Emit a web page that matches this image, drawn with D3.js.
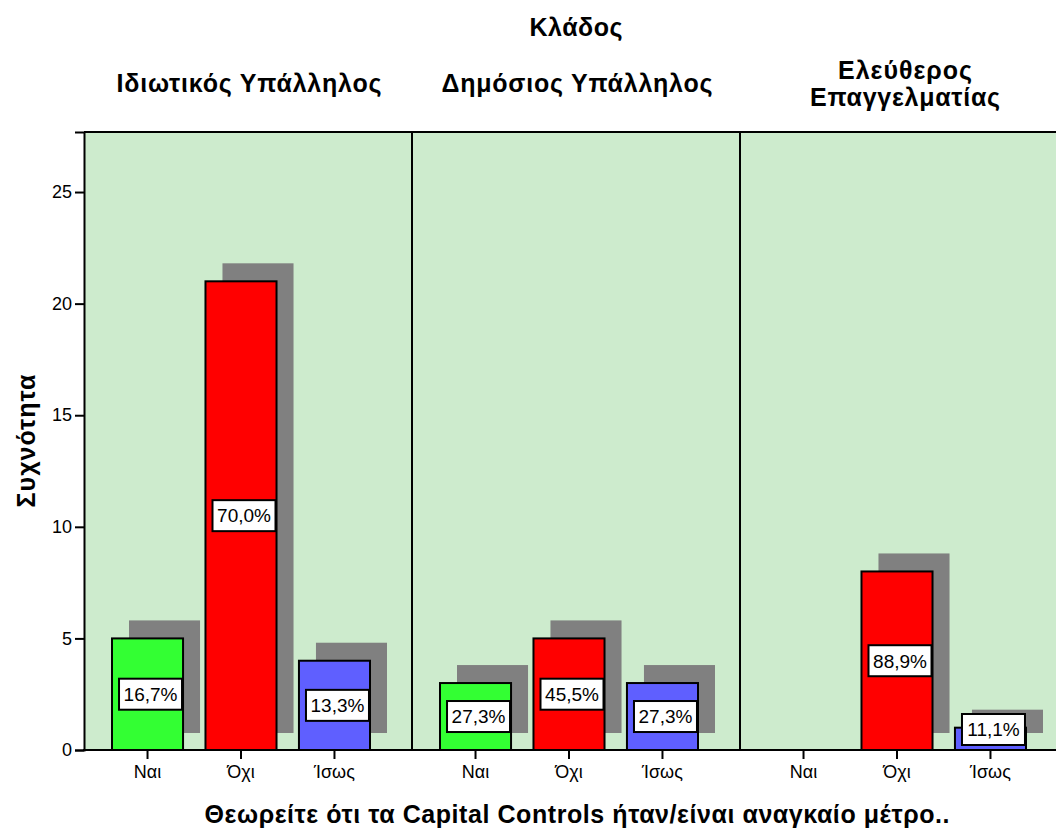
<!DOCTYPE html>
<html>
<head>
<meta charset="utf-8">
<script src="https://cdn.jsdelivr.net/npm/d3@7"></script>
<style>
  html, body { margin: 0; padding: 0; background: #ffffff; }
  svg { display: block; }
  text { font-family: "Liberation Sans", Arial, sans-serif; fill: #000; }
</style>
</head>
<body>
<svg id="chart" width="1056" height="829"></svg>
<script>
// ---- Data ----
const panelTitle = "Κλάδος";
const panels = ["Ιδιωτικός Υπάλληλος", "Δημόσιος Υπάλληλος", "Ελεύθερος Επαγγελματίας"];
const panelTitleLines = [["Ιδιωτικός Υπάλληλος"], ["Δημόσιος Υπάλληλος"], ["Ελεύθερος", "Επαγγελματίας"]];
const categories = ["Ναι", "Όχι", "Ίσως"];
const countsIdiotikos = [5, 21, 4];
const countsDimosios = [3, 5, 3];
const countsEleftheros = [0, 8, 1];
const pctIdiotikos = ["16,7%", "70,0%", "13,3%"];
const pctDimosios = ["27,3%", "45,5%", "27,3%"];
const pctEleftheros = ["", "88,9%", "11,1%"];
const yTicks = [0, 5, 10, 15, 20, 25];
const xTitle = "Θεωρείτε ότι τα Capital Controls ήταν/είναι αναγκαίο μέτρο..";
const yTitle = "Συχνότητα";
const barColors = ["#33ff33", "#ff0000", "#5f5fff"];

const counts = [countsIdiotikos, countsDimosios, countsEleftheros];
const pcts = [pctIdiotikos, pctDimosios, pctEleftheros];

// ---- Layout ----
const svg = d3.select("#chart");
const plotLeft = 84, plotTop = 132, baseY = 750;
const panelW = 328;
const plotRight = plotLeft + panelW * panels.length;
const shadowDx = 17, shadowDy = 18, shadowBottomGap = 17;

const y = d3.scaleLinear().domain([0, 27.69]).range([baseY, plotTop]);
const px = d3.scaleBand().domain(panels).range([plotLeft, plotRight]).padding(0);
const x = d3.scaleBand().domain(categories).range([28, 286]).paddingInner(0.24).paddingOuter(0);
const color = d3.scaleOrdinal().domain(categories).range(barColors);

// fit a bold title to a measured width
function fitText(sel, w) {
  const n = sel.node();
  const nat = n.getComputedTextLength();
  if (nat < w) sel.attr("textLength", w).attr("lengthAdjust", "spacing");
  return sel;
}

// background
svg.append("rect")
  .attr("x", plotLeft).attr("y", plotTop)
  .attr("width", plotRight - plotLeft).attr("height", baseY - plotTop)
  .attr("fill", "#cdebcd");

const titleWidths = [[265], [271], [134, 190]];

// panels
panels.forEach((p, pi) => {
  const g = svg.append("g").attr("transform", `translate(${px(p)},0)`);
  const vals = counts[pi];
  // shadows
  categories.forEach((c, ci) => {
    const v = vals[ci];
    if (v <= 0) return;
    const top = y(v) - shadowDy;
    g.append("rect")
      .attr("x", x(c) + shadowDx).attr("y", top)
      .attr("width", x.bandwidth())
      .attr("height", (baseY - shadowBottomGap) - top)
      .attr("fill", "#808080");
  });
  // bars
  categories.forEach((c, ci) => {
    const v = vals[ci];
    if (v <= 0) return;
    g.append("rect")
      .attr("x", x(c)).attr("y", y(v))
      .attr("width", x.bandwidth()).attr("height", baseY - y(v))
      .attr("fill", color(c)).attr("stroke", "#000").attr("stroke-width", 2);
  });
  // labels
  categories.forEach((c, ci) => {
    const v = vals[ci];
    const lab = pcts[pi][ci];
    if (v <= 0 || !lab) return;
    const bw = 63, bh = 31;
    let cy = y(v / 2);
    cy = Math.min(cy, baseY - 5 - bh / 2);
    const cx = x(c) + x.bandwidth() / 2 + 3;
    g.append("rect")
      .attr("x", cx - bw / 2).attr("y", cy - bh / 2)
      .attr("width", bw).attr("height", bh)
      .attr("fill", "#fff").attr("stroke", "#000").attr("stroke-width", 2);
    g.append("text")
      .attr("x", cx).attr("y", cy).attr("dy", "0.36em")
      .attr("text-anchor", "middle").attr("font-size", 19)
      .text(lab);
  });
  // x axis ticks / labels
  const xa = d3.axisBottom(x).tickSize(9).tickPadding(6);
  const ax = g.append("g").attr("transform", `translate(0,${baseY})`).call(xa);
  ax.select(".domain").remove();
  ax.selectAll(".tick line").attr("stroke", "#000").attr("stroke-width", 2);
  ax.selectAll(".tick text").attr("font-size", 18).style("font-family", "Liberation Sans, Arial, sans-serif");
  // panel title
  const lines = panelTitleLines[pi];
  const tcx = panelW / 2 + 1;
  lines.forEach((ln, li) => {
    const base = lines.length === 1 ? 92 : 79 + li * 27;
    const t = g.append("text")
      .attr("x", tcx).attr("y", base)
      .attr("text-anchor", "middle").attr("font-size", 25).attr("font-weight", "bold")
      .text(ln);
    fitText(t, titleWidths[pi][li]);
  });
});

// panel separators
panels.slice(1).forEach(p => {
  svg.append("line")
    .attr("x1", px(p)).attr("x2", px(p))
    .attr("y1", plotTop).attr("y2", baseY)
    .attr("stroke", "#000").attr("stroke-width", 2);
});
// frame: top, right
svg.append("line").attr("x1", plotLeft).attr("x2", plotRight).attr("y1", plotTop).attr("y2", plotTop)
  .attr("stroke", "#000").attr("stroke-width", 2);
svg.append("line").attr("x1", plotRight).attr("x2", plotRight).attr("y1", plotTop).attr("y2", baseY)
  .attr("stroke", "#000").attr("stroke-width", 2);

// y axis
const ya = d3.axisLeft(y).tickValues(yTicks).tickSize(9).tickPadding(3).tickFormat(d3.format("d"));
const yg = svg.append("g").attr("transform", `translate(${plotLeft},0)`).call(ya);
yg.select(".domain").attr("stroke", "#000").attr("stroke-width", 2);
yg.selectAll(".tick line").attr("stroke", "#000").attr("stroke-width", 2);
yg.selectAll(".tick text").attr("font-size", 18).style("font-family", "Liberation Sans, Arial, sans-serif");

// baseline
svg.append("line").attr("x1", plotLeft - 1).attr("x2", plotRight).attr("y1", baseY).attr("y2", baseY)
  .attr("stroke", "#000").attr("stroke-width", 2);

// titles
fitText(svg.append("text").attr("x", px(panels[1]) + panelW / 2).attr("y", 36)
  .attr("text-anchor", "middle").attr("font-size", 25).attr("font-weight", "bold").text(panelTitle), 93);
fitText(svg.append("text").attr("x", 577).attr("y", 823)
  .attr("text-anchor", "middle").attr("font-size", 25).attr("font-weight", "bold").text(xTitle), 745);
fitText(svg.append("text").attr("transform", `translate(35,441) rotate(-90)`)
  .attr("text-anchor", "middle").attr("font-size", 25).attr("font-weight", "bold").text(yTitle), 133);
</script>
</body>
</html>
